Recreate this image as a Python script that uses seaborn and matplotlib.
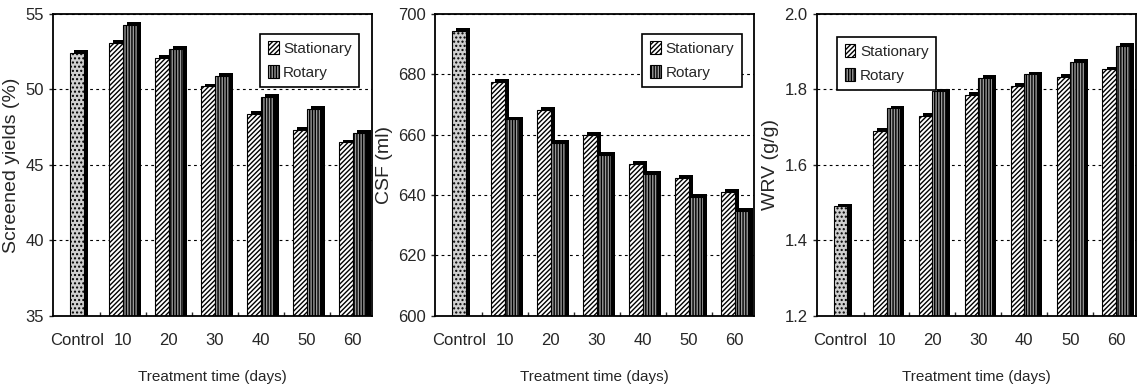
import numpy as np
import pandas as pd
import matplotlib
matplotlib.use("Agg")
import matplotlib.pyplot as plt
import matplotlib.patheffects as pe
from matplotlib.ticker import FixedLocator, FormatStrFormatter
import seaborn as sns

times = ["Control", "10", "20", "30", "40", "50", "60"]
methods = ["Stationary", "Rotary"]

# screened yields (%)
yield_control = 52.4
yield_stat = [53.1, 52.1, 50.2, 48.4, 47.3, 46.5]
yield_rot = [54.3, 52.7, 50.9, 49.5, 48.7, 47.1]

# CSF (ml)
csf_control = 694.5
csf_stat = [677.6, 668.3, 659.9, 650.4, 645.6, 641.0]
csf_rot = [665.1, 657.3, 653.2, 647.1, 639.3, 634.9]

# WRV (g/g)
wrv_control = 1.49
wrv_stat = [1.69, 1.73, 1.785, 1.81, 1.833, 1.853]
wrv_rot = [1.75, 1.795, 1.83, 1.84, 1.873, 1.915]


def make_df(control, stat, rot):
    rows = [("Control", "Control", control)]
    for t, s, r in zip(times[1:], stat, rot):
        rows.append((t, "Stationary", s))
        rows.append((t, "Rotary", r))
    return pd.DataFrame(rows, columns=["time", "method", "value"])


sns.set_style("ticks")
plt.rcParams["font.family"] = ["Liberation Sans", "DejaVu Sans"]
plt.rcParams["hatch.linewidth"] = 1.0
plt.rcParams["hatch.color"] = "black"

fig = plt.figure(figsize=(11.39, 3.89), dpi=100)
lefts = [0.0465, 0.382, 0.717]
axes = [fig.add_axes([l, 0.188, 0.280, 0.776]) for l in lefts]

panels = [
    (yield_control, yield_stat, yield_rot, (35, 55), [35, 40, 45, 50, 55], "%d",
     "Screened yields (%)", "upper right"),
    (csf_control, csf_stat, csf_rot, (600, 700), [600, 620, 640, 660, 680, 700], "%d",
     "CSF (ml)", "upper right"),
    (wrv_control, wrv_stat, wrv_rot, (1.2, 2.0), [1.2, 1.4, 1.6, 1.8, 2.0], "%.1f",
     "WRV (g/g)", "upper left"),
]

shadow = [pe.SimplePatchShadow(offset=(3, 2), shadow_rgbFace="black", alpha=1.0), pe.Normal()]

for ax, (ctrl, stat, rot, ylim, yticks, fmt, ylabel, loc) in zip(axes, panels):
    df = make_df(ctrl, stat, rot)
    sns.barplot(data=df[df.method == "Control"], x="time", y="value", order=times,
                color="#d0d0d0", width=0.3, edgecolor="black", linewidth=0.8,
                ax=ax, errorbar=None)
    sns.barplot(data=df[df.method != "Control"], x="time", y="value", hue="method",
                order=times, hue_order=methods, palette=["white", "#9a9a9a"],
                width=0.6, gap=0, edgecolor="black", linewidth=0.8, ax=ax,
                errorbar=None, legend=False)
    hatches = ["....", "///////", "||||||"]
    for cont, h in zip(ax.containers, hatches):
        for p in cont.patches:
            p.set_hatch(h)
            p.set_path_effects(shadow)

    ax.set_ylim(*ylim)
    ax.set_xlim(-0.52, 6.42)
    ax.yaxis.set_major_locator(FixedLocator(yticks))
    ax.yaxis.set_major_formatter(FormatStrFormatter(fmt))
    ax.set_axisbelow(True)
    ax.yaxis.grid(True, linestyle=(0, (2.5, 3)), color="black", linewidth=0.8)
    ax.set_xticks(np.arange(len(times)))
    ax.set_xticklabels(times, fontsize=12)
    ax.xaxis.set_minor_locator(FixedLocator(np.arange(0.5, 6, 1)))
    ax.tick_params(axis="x", which="major", length=0, pad=12)
    ax.tick_params(axis="x", which="minor", direction="in", length=3, width=1)
    ax.tick_params(axis="y", direction="out", length=3, width=1, labelsize=12)
    for s in ax.spines.values():
        s.set_visible(True)
        s.set_color("black")
        s.set_linewidth(1.3)
    ax.set_ylabel(ylabel, fontsize=14, labelpad=4)
    ax.set_xlabel("Treatment time (days)", fontsize=11, labelpad=16)

    leg = ax.legend(ax.containers[1:], methods, loc=loc, fancybox=False,
                    edgecolor="black", framealpha=1, handlelength=0.7, handleheight=0.9,
                    handletextpad=0.3, borderpad=0.5, labelspacing=0.6, fontsize=11,
                    bbox_to_anchor=(0.985, 0.96) if loc == "upper right" else (0.04, 0.95))
    leg.get_frame().set_linewidth(1.2)
    for h in leg.legend_handles:
        h.set_path_effects([])

fig.savefig("out.png", dpi=100)
